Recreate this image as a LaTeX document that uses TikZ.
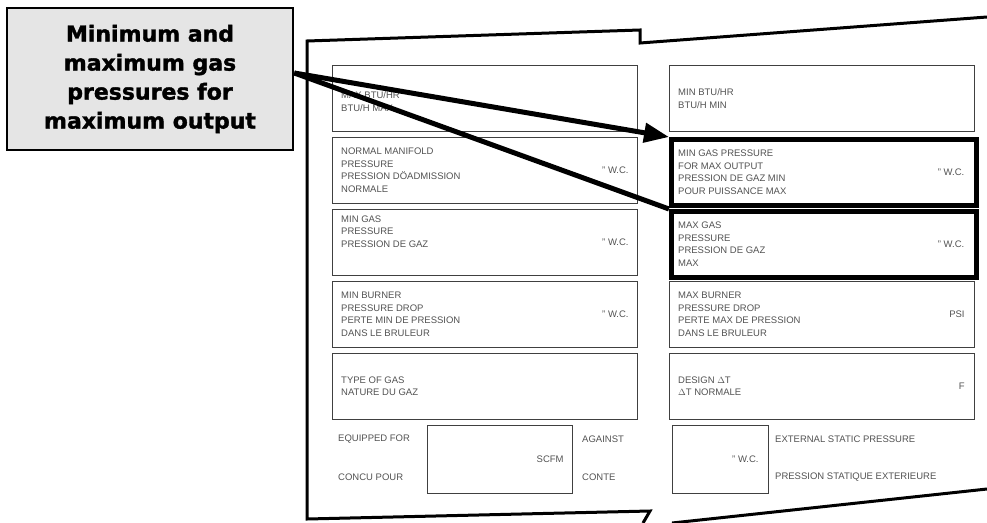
\documentclass[tikz,border=0pt]{standalone}
\usepackage{fontspec}
\setmainfont{Liberation Sans}
\newfontfamily\calloutfont[BoldFeatures={FakeBold=1.6}]{DejaVu Sans}
\usetikzlibrary{arrows.meta}

\begin{document}
\begin{tikzpicture}[x=1pt,y=-1pt,
        cell/.style={draw=black!75,line width=0.8pt,minimum width=305pt,minimum height=66pt,anchor=north west,inner sep=0pt},
        hot/.style={cell,draw=black,line width=4.5pt},
        small/.style={draw=black!75,line width=0.8pt,minimum height=68pt,anchor=north west,inner sep=0pt},
        txt/.style={text=black!68,font=\fontsize{9.5}{12.5}\selectfont,align=left,anchor=west,inner sep=0pt},
        unit/.style={txt,anchor=east},
        lead/.style={line width=5pt}]
    \useasboundingbox (0,0) rectangle (987,522);
    \draw[line width=3pt] (987,17) -- (640,43) -- (640,30) -- (307,41) -- (307,519) -- (650,511) -- (643,523);
    \draw[line width=3pt] (672,523) -- (987,489);
    \node[draw=black,line width=2.5pt,fill=black!10,minimum width=286pt,minimum height=142pt,align=center,
          font=\calloutfont\bfseries\fontsize{22}{29}\selectfont] (callout) at (150,79)
        {Minimum and\\maximum gas\\pressures for\\maximum output};
    \node[cell] (l1) at (332,65) {};
    \node[cell] (l2) at (332,137) {};
    \node[cell] (l3) at (332,209) {};
    \node[cell] (l4) at (332,281) {};
    \node[cell] (l5) at (332,353) {};
    \node[cell] (r1) at (669,65) {};
    \node[hot] (r2) at (669,137) {};
    \node[hot] (r3) at (669,209) {};
    \node[cell] (r4) at (669,281) {};
    \node[cell] (r5) at (669,353) {};
    \node[txt] (l1t) at ([xshift=9pt,yshift=-3pt]l1.west) {MAX BTU/HR\\BTU/H MAX};
    \node[txt] (l2t) at ([xshift=9pt]l2.west) {NORMAL MANIFOLD\\PRESSURE\\PRESSION DÖADMISSION\\NORMALE};
    \node[unit] (l2u) at ([xshift=-9pt]l2.east) {" W.C.};
    \node[txt] (l3t) at ([xshift=9pt,yshift=11pt]l3.west) {MIN GAS\\PRESSURE\\PRESSION DE GAZ};
    \node[unit] (l3u) at ([xshift=-9pt]l3.east) {" W.C.};
    \node[txt] (l4t) at ([xshift=9pt]l4.west) {MIN BURNER\\PRESSURE DROP\\PERTE MIN DE PRESSION\\DANS LE BRULEUR};
    \node[unit] (l4u) at ([xshift=-9pt]l4.east) {" W.C.};
    \node[txt] (l5t) at ([xshift=9pt]l5.west) {TYPE OF GAS\\NATURE DU GAZ};
    \node[txt] (r1t) at ([xshift=9pt]r1.west) {MIN BTU/HR\\BTU/H MIN};
    \node[txt] (r2t) at ([xshift=9pt]r2.west) {MIN GAS PRESSURE\\FOR MAX OUTPUT\\PRESSION DE GAZ MIN\\POUR PUISSANCE MAX};
    \node[unit] (r2u) at ([xshift=-14pt]r2.east) {" W.C.};
    \node[txt] (r3t) at ([xshift=9pt]r3.west) {MAX GAS\\PRESSURE\\PRESSION DE GAZ\\MAX};
    \node[unit] (r3u) at ([xshift=-14pt]r3.east) {" W.C.};
    \node[txt] (r4t) at ([xshift=9pt]r4.west) {MAX BURNER\\PRESSURE DROP\\PERTE MAX DE PRESSION\\DANS LE BRULEUR};
    \node[unit] (r4u) at ([xshift=-10pt]r4.east) {PSI};
    \node[txt] (r5t) at ([xshift=9pt]r5.west) {DESIGN $\Delta$T\\$\Delta$T NORMALE};
    \node[unit] (r5u) at ([xshift=-10pt]r5.east) {F};
    \node[small,minimum width=145pt] (flow) at (427,425) {};
    \node[small,minimum width=96pt] (esp) at (672,425) {};
    \node[txt] (eq) at (338,439) {EQUIPPED FOR};
    \node[txt] (cp) at (338,477) {CONCU POUR};
    \node[unit] (scfm) at ([xshift=-9pt]flow.east) {SCFM};
    \node[txt] (ag) at (582,439) {AGAINST};
    \node[txt] (ct) at (582,477) {CONTE};
    \node[unit] (espu) at ([xshift=-10pt]esp.east) {" W.C.};
    \node[txt] (ext) at (775,439) {EXTERNAL STATIC PRESSURE};
    \node[txt] (pse) at (775,477) {PRESSION STATIQUE EXTERIEURE};
    \draw[lead,-{Triangle[length=25pt,width=19pt]}] ([yshift=6pt]callout.east) -- (r2.north west);
    \draw[lead] ([yshift=6pt]callout.east) -- (r3.north west);
\end{tikzpicture}
\end{document}
